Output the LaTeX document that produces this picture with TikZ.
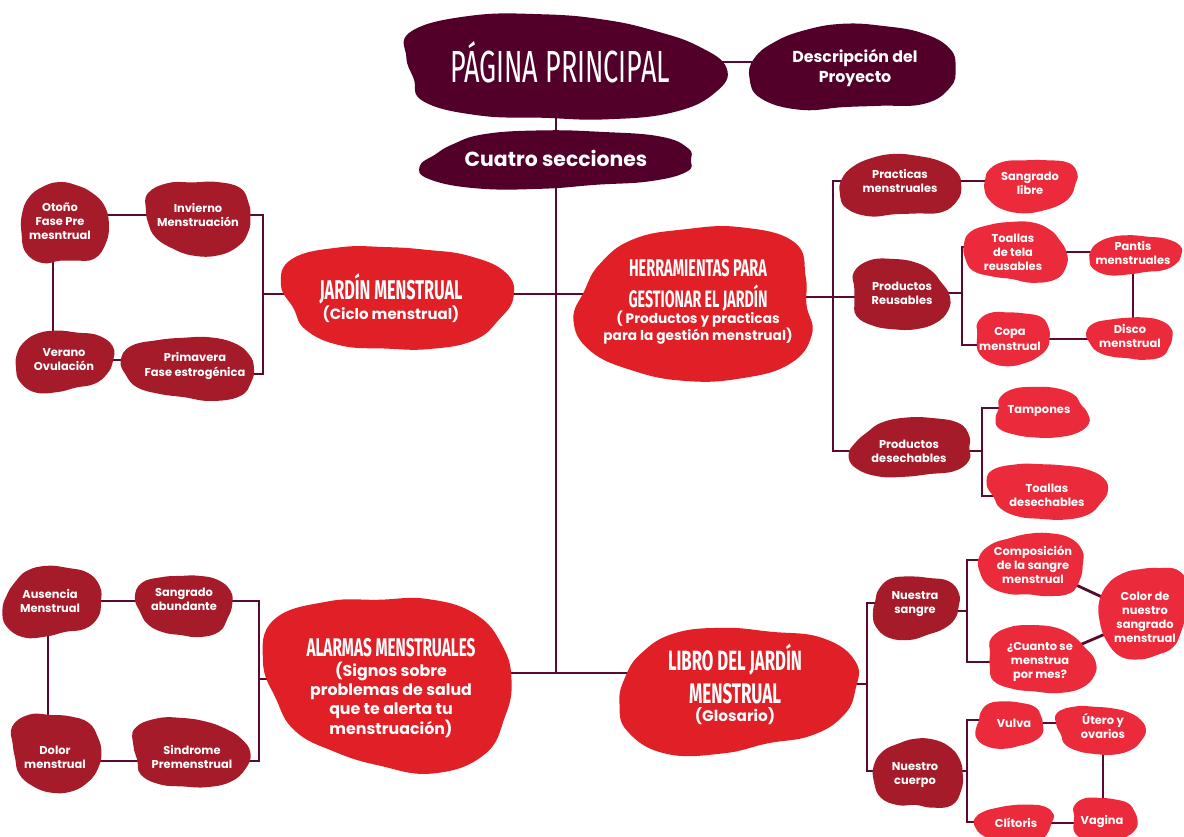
\documentclass[tikz,border=0pt]{standalone}
\usepackage{fontspec}
\usepackage{graphicx}
\setmainfont{Poppins}
\newfontfamily\hand[FakeStretch=0.6]{Fira Sans}
\usetikzlibrary{calc}
\definecolor{cdark}{HTML}{52002A}
\definecolor{cmid}{HTML}{A61B29}
\definecolor{csec}{HTML}{E01F27}
\definecolor{cleaf}{HTML}{EB2B3B}
\definecolor{cline}{HTML}{5A0A30}
\pgfdeclarelayer{lines}\pgfdeclarelayer{blobs}\pgfsetlayers{lines,blobs,main}
\newcommand\blob[7]{\fill[#5,shift={(#1,#2)}] plot[smooth cycle,tension=0.75,variable=\t,samples at={0,24,...,336}]
 ({#3*cos(\t)*(1+0.07*sin(2*\t+#6)+0.05*sin(3*\t+#7)+0.025*cos(5*\t+#6))/sqrt(sqrt(sqrt(cos(\t)*cos(\t)*cos(\t)*cos(\t)+sin(\t)*sin(\t)*sin(\t)*sin(\t))))},
  {#4*sin(\t)*(1+0.07*sin(2*\t+#6)+0.05*sin(3*\t+#7)+0.025*cos(5*\t+#6))/sqrt(sqrt(sqrt(cos(\t)*cos(\t)*cos(\t)*cos(\t)+sin(\t)*sin(\t)*sin(\t)*sin(\t))))});}
\tikzset{
  lab/.style={text=white,align=center,inner sep=0pt,font=\fontsize{6.5}{8}\selectfont\bfseries},
  conn/.style={draw=cline,line width=1.6pt}
}
\begin{document}
\begin{tikzpicture}[x=0.02cm,y=-0.02cm]
\useasboundingbox (0,0) rectangle (1184,837);
% ---------- blobs ----------
\begin{pgfonlayer}{blobs}
\blob{558}{68}{154}{53}{cdark}{20}{70}
\blob{853}{68}{97}{44}{cdark}{120}{10}
\blob{557}{160}{136}{28}{cdark}{200}{40}
\blob{396}{297}{107}{54}{csec}{60}{150}
\blob{698}{305}{123}{72}{csec}{250}{300}
\blob{391}{681}{120}{86}{csec}{10}{220}
\blob{735}{690}{116}{62}{csec}{170}{90}
% jardin cluster
\blob{64}{224}{41}{42}{cmid}{90}{30}
\blob{199}{217}{55}{35}{cmid}{300}{200}
\blob{63}{361}{47}{31}{cmid}{150}{100}
\blob{190}{368}{63}{32}{cmid}{40}{260}
% herramientas cluster
\blob{900}{186}{57}{32}{cmid}{110}{20}
\blob{1030}{185}{48}{25}{cleaf}{230}{170}
\blob{899}{295}{49}{34}{cmid}{330}{60}
\blob{1016}{252}{50}{30}{cleaf}{20}{310}
\blob{1134}{255}{44}{20}{cleaf}{140}{80}
\blob{1012}{338}{39}{25}{cleaf}{260}{130}
\blob{1131}{338}{40}{22}{cleaf}{70}{240}
\blob{912}{448}{60}{29}{cmid}{190}{350}
\blob{1041}{413}{48}{24}{cleaf}{300}{20}
\blob{1047}{491}{56}{29}{cleaf}{50}{160}
% libro cluster
\blob{915}{607}{44}{30}{cmid}{210}{110}
\blob{1033}{565}{49}{33}{cleaf}{100}{280}
\blob{1040}{660}{53}{33}{cleaf}{350}{30}
\blob{1144}{612}{43}{46}{cleaf}{160}{200}
\blob{919}{774}{42}{36}{cmid}{80}{320}
\blob{1009}{725}{35}{22}{cleaf}{240}{60}
\blob{1100}{730}{43}{24}{cleaf}{10}{140}
\blob{1015}{823}{37}{19}{cleaf}{130}{250}
\blob{1104}{820}{34}{21}{cleaf}{280}{100}
% alarmas cluster
\blob{52}{602}{48}{35}{cmid}{170}{40}
\blob{185}{605}{45}{32}{cmid}{60}{210}
\blob{56}{752}{46}{37}{cmid}{310}{150}
\blob{189}{753}{56}{35}{cmid}{20}{90}
\end{pgfonlayer}
% ---------- nodes ----------
\node[text=white,inner sep=0pt] (main) at (560,62) {\resizebox{4.4cm}{!}{\hand PÁGINA PRINCIPAL}};
\node[lab,font=\fontsize{9}{11}\selectfont\bfseries] (desc) at (855,68) {Descripción del\\Proyecto};
\node[lab,font=\fontsize{11.6}{13}\selectfont\bfseries] (cuatro) at (556,158) {Cuatro secciones};
\node[lab,font=\fontsize{8.5}{10}\selectfont\bfseries] (jardin) at (391,298) {\resizebox{2.86cm}{!}{\hand JARDÍN MENSTRUAL}\\(Ciclo menstrual)};
\node[lab,font=\fontsize{7.8}{9.5}\selectfont\bfseries] (herr) at (698,302) {\resizebox{2.76cm}{!}{\hand HERRAMIENTAS PARA}\\[3pt]\resizebox{2.78cm}{!}{\hand GESTIONAR EL JARDÍN}\\( Productos y practicas\\para la gestión menstrual)};
\node[lab,font=\fontsize{9}{11}\selectfont\bfseries] (alarmas) at (391,688) {\resizebox{3.38cm}{!}{\hand ALARMAS MENSTRUALES}\\(Signos sobre\\problemas de salud\\que te alerta tu\\menstruación)};
\node[lab,font=\fontsize{8.7}{10}\selectfont\bfseries] (libro) at (735,684) {\resizebox{2.68cm}{!}{\hand LIBRO DEL JARDÍN}\\[4pt]\resizebox{1.84cm}{!}{\hand MENSTRUAL}\\(Glosario)};
% jardin
\node[lab] (otono) at (60,221) {Otoño\\Fase Pre\\mesntrual};
\node[lab] (invierno) at (198,215) {Invierno\\Menstruación};
\node[lab] (verano) at (64,360) {Verano\\Ovulación};
\node[lab] (primavera) at (195,366) {Primavera\\Fase estrogénica};
% herramientas
\node[lab] (practicas) at (900,181) {Practicas\\menstruales};
\node[lab] (sangrado) at (1030,183) {Sangrado\\libre};
\node[lab] (prodreus) at (902,293) {Productos\\Reusables};
\node[lab] (toallas) at (1013,252) {Toallas\\de tela\\reusables};
\node[lab] (pantis) at (1133,253) {Pantis\\menstruales};
\node[lab] (copa) at (1010,339) {Copa\\menstrual};
\node[lab] (disco) at (1130,336) {Disco\\menstrual};
\node[lab] (proddes) at (909,451) {Productos\\desechables};
\node[lab] (tampones) at (1039,411) {Tampones};
\node[lab] (toallasd) at (1047,495) {Toallas\\desechables};
% libro
\node[lab] (nsangre) at (915,604) {Nuestra\\sangre};
\node[lab] (comp) at (1033,565) {Composición\\de la sangre\\menstrual};
\node[lab] (cuanto) at (1040,662) {¿Cuanto se\\menstrua\\por mes?};
\node[lab] (color) at (1145,617) {Color de\\nuestro\\sangrado\\menstrual};
\node[lab] (ncuerpo) at (915,775) {Nuestro\\cuerpo};
\node[lab] (vulva) at (1014,723) {Vulva};
\node[lab] (utero) at (1103,726) {Útero y\\ovarios};
\node[lab] (clitoris) at (1016,823) {Clítoris};
\node[lab] (vagina) at (1102,821) {Vagina};
% alarmas
\node[lab] (ausencia) at (50,601) {Ausencia\\Menstrual};
\node[lab] (sangab) at (184,599) {Sangrado\\abundante};
\node[lab] (dolor) at (55,757) {Dolor\\menstrual};
\node[lab] (sindrome) at (192,757) {Sindrome\\Premenstrual};
% ---------- coordinates ----------
\coordinate (jA) at (556,673);
\coordinate (jJ) at (556,294);
\coordinate (bH) at (833,297);
\coordinate (bJb) at (263,374);
\coordinate (bJ) at (263,294);
\coordinate (ov) at (53,300);
\coordinate (bRt) at (962,247);
\coordinate (bRb) at (962,345);
\coordinate (bDt) at (982,408);
\coordinate (bDb) at (982,496);
\coordinate (bL) at (867,684);
\coordinate (bLt) at (867,603);
\coordinate (bLb) at (867,771);
\coordinate (bSm) at (967,611);
\coordinate (bSt) at (967,560);
\coordinate (bSb) at (967,662);
\coordinate (bCm) at (967,771);
\coordinate (bCt) at (967,720);
\coordinate (bCb) at (967,822);
\coordinate (bAm) at (259,679);
\coordinate (bAt) at (259,601);
\coordinate (bAb) at (259,761);
\coordinate (ad) at (48,680);
% ---------- connectors ----------
\begin{pgfonlayer}{lines}
\draw[conn] (main) -- (main -| desc);
\draw[conn] (cuatro |- main) -- (jA);
\draw[conn] (jA -| alarmas) -- (jA -| libro);
\draw[conn] (jJ -| jardin) -- (jJ -| herr);
% jardin
\draw[conn] (bJ) -- (bJ -| jardin);
\draw[conn] (otono |- invierno) -- (invierno) -| (bJb) -- (bJb -| primavera);
\draw[conn] (ov |- otono) -- (ov |- verano);
\draw[conn] (verano) -- (verano -| primavera);
% herramientas
\draw[conn] (bH -| herr) -- (bH -| prodreus);
\draw[conn] (practicas) -| (bH) |- (proddes);
\draw[conn] (practicas) -- (practicas -| sangrado);
\draw[conn] (prodreus) -- (prodreus -| bRt);
\draw[conn] (bRt -| toallas) -- (bRt) -- (bRb) -- (bRb -| copa);
\draw[conn] (toallas) -- (toallas -| pantis);
\draw[conn] (pantis) -- (pantis |- disco);
\draw[conn] (copa) -- (copa -| disco);
\draw[conn] (proddes) -- (proddes -| bDt);
\draw[conn] (bDt -| tampones) -- (bDt) -- (bDb) -- (bDb -| toallasd);
% libro
\draw[conn] (bL -| libro) -- (bL);
\draw[conn] (bLt -| nsangre) -- (bLt) -- (bLb) -- (bLb -| ncuerpo);
\draw[conn] (bSm -| nsangre) -- (bSm);
\draw[conn] (bSt -| comp) -- (bSt) -- (bSb) -- (bSb -| cuanto);
\draw[conn] (comp) -- (color);
\draw[conn] (cuanto) -- (color);
\draw[conn] (bCm -| ncuerpo) -- (bCm);
\draw[conn] (bCt -| vulva) -- (bCt) -- (bCb) -- (bCb -| clitoris);
\draw[conn] (vulva) -- (vulva -| utero);
\draw[conn] (utero) -- (utero |- vagina);
\draw[conn] (clitoris) -- (clitoris -| vagina);
% alarmas
\draw[conn] (bAm) -- (bAm -| alarmas);
\draw[conn] (ausencia |- bAt) -- (bAt) -- (bAb) -- (bAb -| dolor);
\draw[conn] (ad |- ausencia) -- (ad |- dolor);
\end{pgfonlayer}
\end{tikzpicture}
\end{document}
